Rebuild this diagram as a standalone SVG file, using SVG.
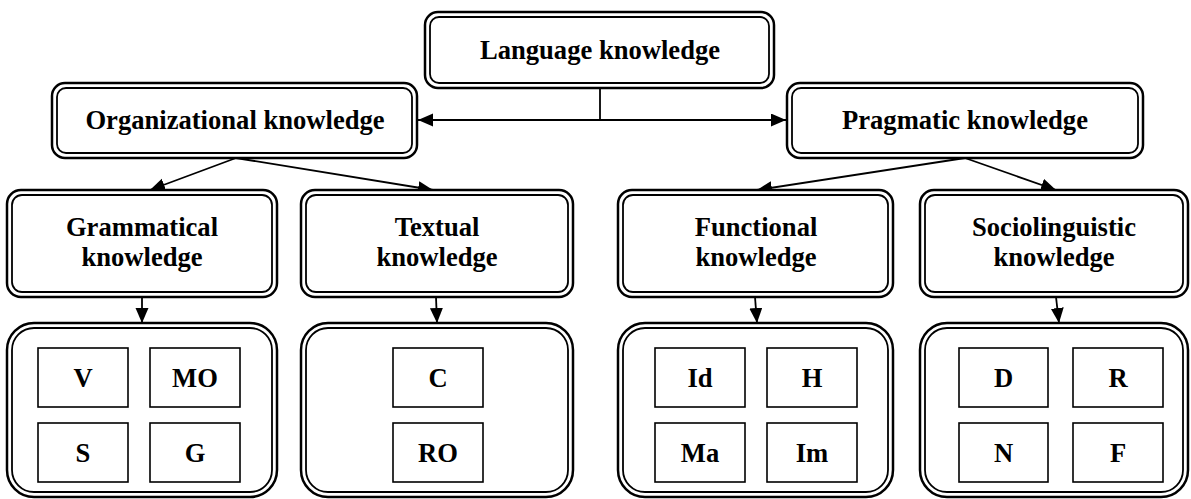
<svg xmlns="http://www.w3.org/2000/svg" width="1191" height="499" viewBox="0 0 1191 499">
<style>
.o{fill:#fff;stroke:#000;stroke-width:2.5}
.i{fill:none;stroke:#000;stroke-width:1.8}
.b{fill:#fff;stroke:#000;stroke-width:1.6}
.t{font-family:"Liberation Serif","Times New Roman",serif;font-weight:bold;font-size:26.6px;fill:#000;text-anchor:middle}
.c{stroke:#000;stroke-width:1.8;fill:none}
</style>
<defs>
<marker id="ah" markerUnits="userSpaceOnUse" markerWidth="16" markerHeight="14" refX="15" refY="6.5" orient="auto">
<path d="M0,0 L15,6.5 L0,13 Z" fill="#000"/>
</marker>
</defs>
<g id="connectors">
<line class="c" x1="600" y1="88" x2="600" y2="120"/>
<line class="c" x1="600" y1="120" x2="418" y2="120" marker-end="url(#ah)"/>
<line class="c" x1="600" y1="120" x2="786" y2="120" marker-end="url(#ah)"/>
<line class="c" x1="236" y1="158" x2="150" y2="190" marker-end="url(#ah)"/>
<line class="c" x1="236" y1="158" x2="433" y2="190" marker-end="url(#ah)"/>
<line class="c" x1="965" y1="158" x2="757" y2="190" marker-end="url(#ah)"/>
<line class="c" x1="965" y1="158" x2="1056" y2="190" marker-end="url(#ah)"/>
<line class="c" x1="142" y1="297" x2="142" y2="323" marker-end="url(#ah)"/>
<line class="c" x1="436" y1="297" x2="437" y2="323" marker-end="url(#ah)"/>
<line class="c" x1="755" y1="297" x2="757" y2="323" marker-end="url(#ah)"/>
<line class="c" x1="1056" y1="297" x2="1059" y2="323" marker-end="url(#ah)"/>
</g>
<g id="language">
<rect class="o" x="425" y="12" width="349" height="76" rx="13"/>
<rect class="i" x="430" y="17" width="339" height="66" rx="9"/>
<text class="t" x="600" y="59">Language knowledge</text>
</g>
<g id="organizational">
<rect class="o" x="52" y="83" width="365" height="75" rx="13"/>
<rect class="i" x="57" y="88" width="355" height="65" rx="9"/>
<text class="t" x="235" y="129">Organizational knowledge</text>
</g>
<g id="pragmatic">
<rect class="o" x="787" y="83" width="356" height="75" rx="13"/>
<rect class="i" x="792" y="88" width="346" height="65" rx="9"/>
<text class="t" x="965" y="129">Pragmatic knowledge</text>
</g>
<g id="grammatical">
<rect class="o" x="7" y="190" width="270" height="107" rx="14"/>
<rect class="i" x="12" y="195" width="260" height="97" rx="10"/>
<text class="t" x="142" y="236">Grammatical</text>
<text class="t" x="142" y="266">knowledge</text>
</g>
<g id="textual">
<rect class="o" x="301" y="190" width="272" height="107" rx="14"/>
<rect class="i" x="306" y="195" width="262" height="97" rx="10"/>
<text class="t" x="437" y="236">Textual</text>
<text class="t" x="437" y="266">knowledge</text>
</g>
<g id="functional">
<rect class="o" x="618" y="190" width="275" height="107" rx="14"/>
<rect class="i" x="623" y="195" width="265" height="97" rx="10"/>
<text class="t" x="756" y="236">Functional</text>
<text class="t" x="756" y="266">knowledge</text>
</g>
<g id="sociolinguistic">
<rect class="o" x="920" y="190" width="268" height="107" rx="14"/>
<rect class="i" x="925" y="195" width="258" height="97" rx="10"/>
<text class="t" x="1054" y="236">Sociolinguistic</text>
<text class="t" x="1054" y="266">knowledge</text>
</g>
<g id="grammatical-items">
<rect class="o" x="7" y="323" width="270" height="174" rx="27"/>
<rect class="i" x="12" y="328" width="260" height="164" rx="22"/>
<rect class="b" x="38" y="348" width="90" height="59"/>
<text class="t" x="83" y="387">V</text>
<rect class="b" x="150" y="348" width="90" height="59"/>
<text class="t" x="195" y="387">MO</text>
<rect class="b" x="38" y="423" width="90" height="59"/>
<text class="t" x="83" y="462">S</text>
<rect class="b" x="150" y="423" width="90" height="59"/>
<text class="t" x="195" y="462">G</text>
</g>
<g id="textual-items">
<rect class="o" x="301" y="323" width="272" height="174" rx="27"/>
<rect class="i" x="306" y="328" width="262" height="164" rx="22"/>
<rect class="b" x="393" y="348" width="90" height="59"/>
<text class="t" x="438" y="387">C</text>
<rect class="b" x="393" y="423" width="90" height="59"/>
<text class="t" x="438" y="462">RO</text>
</g>
<g id="functional-items">
<rect class="o" x="618" y="323" width="275" height="174" rx="27"/>
<rect class="i" x="623" y="328" width="265" height="164" rx="22"/>
<rect class="b" x="655" y="348" width="90" height="59"/>
<text class="t" x="700" y="387">Id</text>
<rect class="b" x="767" y="348" width="90" height="59"/>
<text class="t" x="812" y="387">H</text>
<rect class="b" x="655" y="423" width="90" height="59"/>
<text class="t" x="700" y="462">Ma</text>
<rect class="b" x="767" y="423" width="90" height="59"/>
<text class="t" x="812" y="462">Im</text>
</g>
<g id="sociolinguistic-items">
<rect class="o" x="920" y="323" width="268" height="174" rx="27"/>
<rect class="i" x="925" y="328" width="258" height="164" rx="22"/>
<rect class="b" x="959" y="348" width="89" height="59"/>
<text class="t" x="1003.5" y="387">D</text>
<rect class="b" x="1073" y="348" width="90" height="59"/>
<text class="t" x="1118" y="387">R</text>
<rect class="b" x="959" y="423" width="89" height="59"/>
<text class="t" x="1003.5" y="462">N</text>
<rect class="b" x="1073" y="423" width="90" height="59"/>
<text class="t" x="1118" y="462">F</text>
</g>
</svg>
